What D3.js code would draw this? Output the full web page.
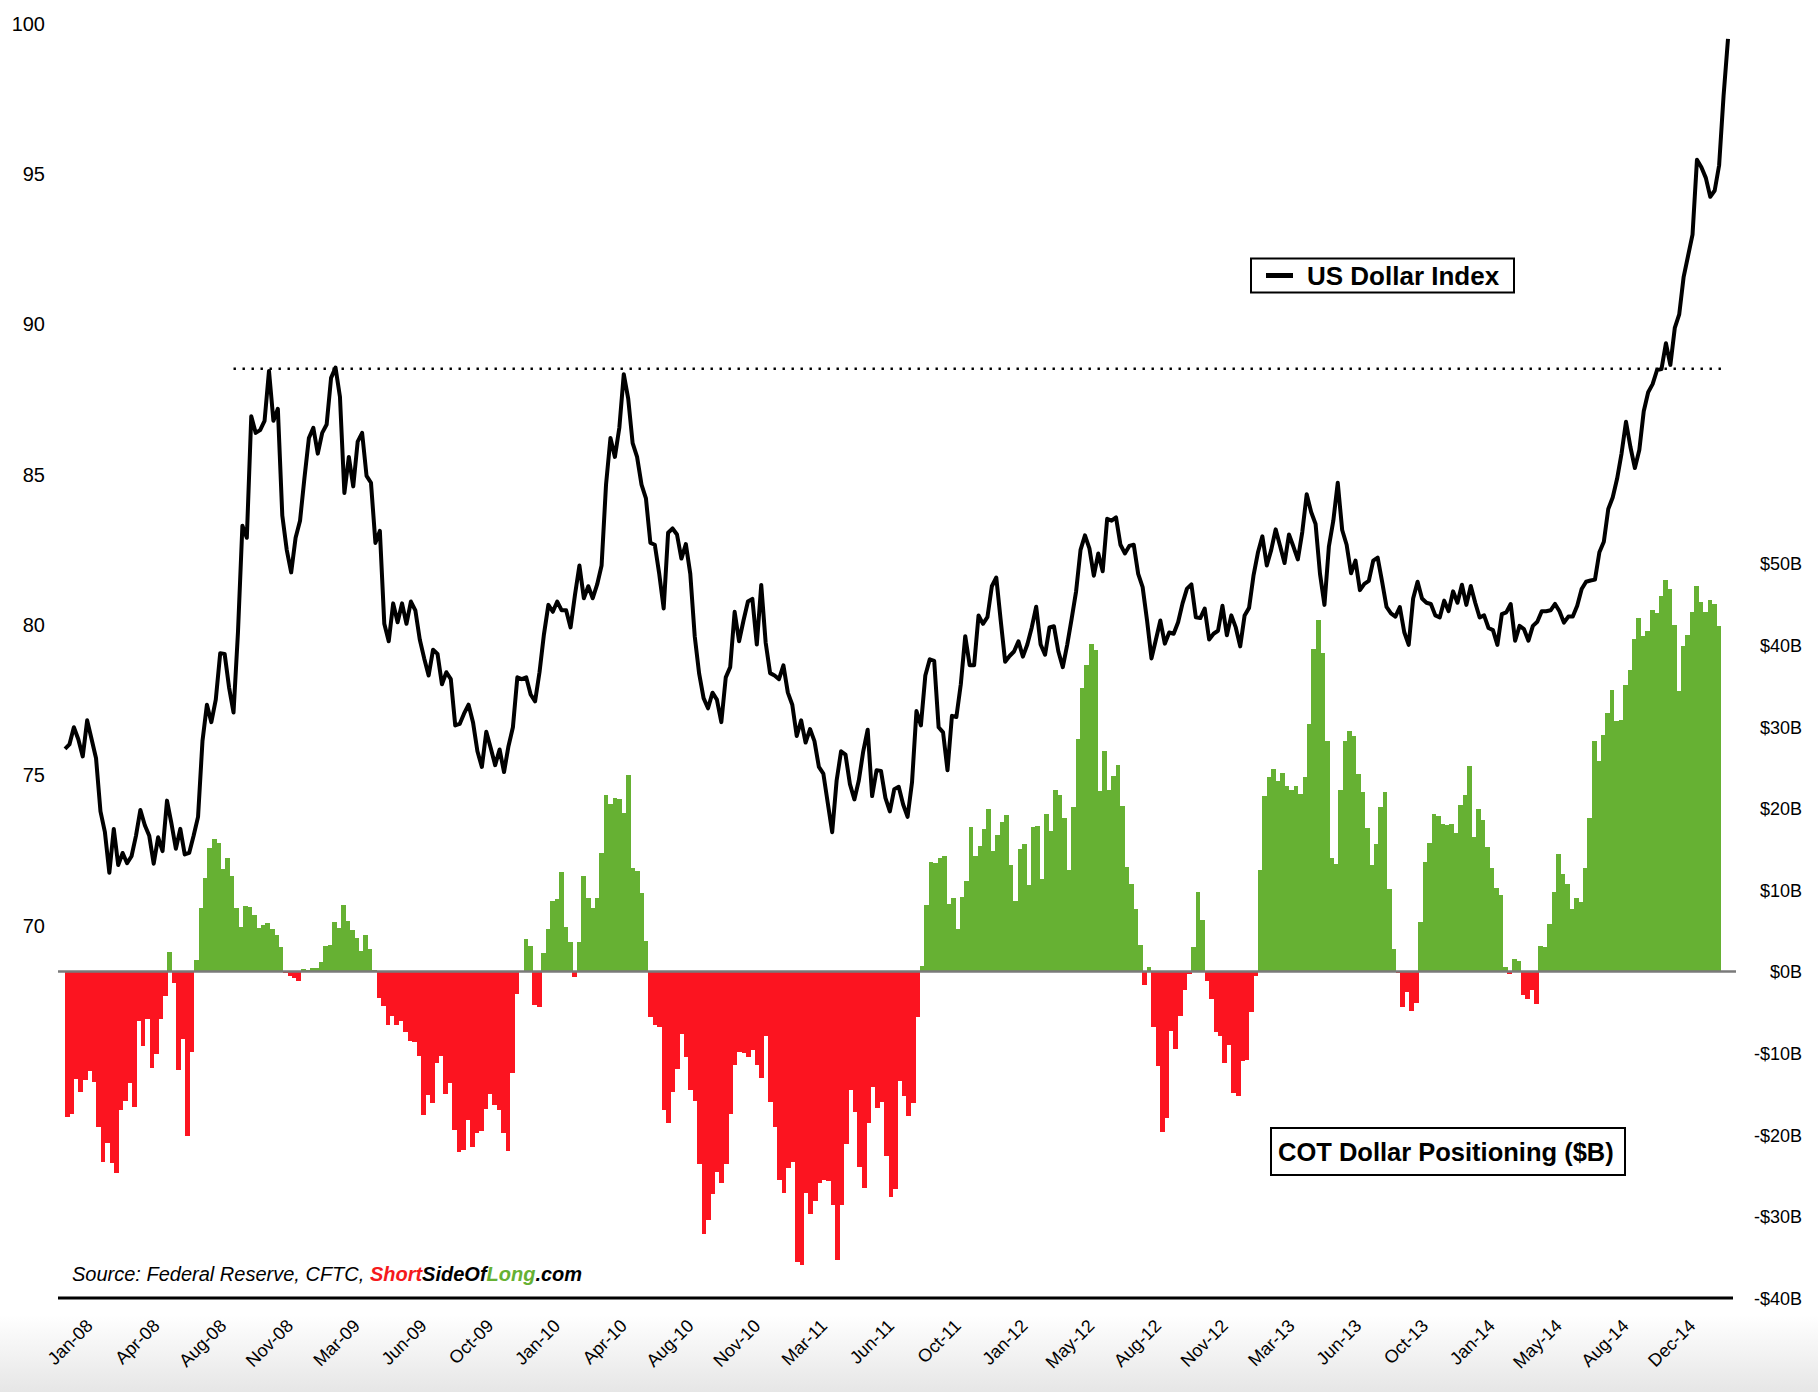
<!DOCTYPE html>
<html>
<head>
<meta charset="utf-8">
<script src="https://cdn.jsdelivr.net/npm/d3@7"></script>
<style>
  body { margin: 0; background: #fff; }
  svg { display: block; font-family: "Liberation Sans", Arial, sans-serif; }
</style>
</head>
<body>
<div id="chart"></div>
<script>
// weekly US Dollar Index, Jan-08 .. Mar-15
const dollarIndex = [
  75.86, 76.01, 76.58, 76.18, 75.61, 76.81, 76.18, 75.55, 73.78, 73.09,
  71.74, 73.20, 72.00, 72.40, 72.06, 72.29, 72.97, 73.83, 73.32, 72.97,
  72.04, 72.92, 72.46, 74.14, 73.38, 72.54, 73.20, 72.35, 72.40, 72.97,
  73.60, 76.12, 77.33, 76.75, 77.50, 79.04, 79.02, 77.90, 77.07, 79.73,
  83.28, 82.88, 86.92, 86.37, 86.46, 86.77, 88.43, 86.77, 87.17, 83.62,
  82.48, 81.73, 82.88, 83.45, 84.88, 86.20, 86.54, 85.68, 86.37, 86.65,
  88.20, 88.54, 87.57, 84.37, 85.57, 84.59, 86.08, 86.37, 84.94, 84.71,
  82.71, 83.11, 80.02, 79.44, 80.70, 80.07, 80.70, 80.02, 80.76, 80.47,
  79.50, 78.87, 78.30, 79.16, 79.02, 78.01, 78.41, 78.18, 76.64, 76.69,
  77.04, 77.33, 76.75, 75.78, 75.26, 76.43, 75.89, 75.32, 75.84, 75.09,
  75.95, 76.58, 78.24, 78.18, 78.24, 77.67, 77.44, 78.41, 79.67, 80.65,
  80.42, 80.76, 80.47, 80.47, 79.90, 80.99, 81.96, 80.87, 81.27, 80.87,
  81.33, 81.96, 84.65, 86.20, 85.57, 86.54, 88.32, 87.51, 86.03, 85.57,
  84.65, 84.19, 82.71, 82.65, 81.68, 80.53, 83.05, 83.19, 82.99, 82.19,
  82.67, 81.68, 79.61, 78.36, 77.55, 77.21, 77.73, 77.50, 76.75, 78.24,
  78.58, 80.42, 79.44, 80.13, 80.76, 80.85, 79.33, 81.31, 79.39, 78.38,
  78.30, 78.18, 78.64, 77.73, 77.33, 76.29, 76.81, 76.07, 76.52, 76.12,
  75.26, 75.04, 74.06, 73.09, 74.81, 75.78, 75.67, 74.69, 74.18, 74.81,
  75.78, 76.50, 74.29, 75.15, 75.13, 74.23, 73.78, 74.52, 74.60, 74.01,
  73.60, 74.75, 77.12, 76.64, 78.30, 78.84, 78.79, 76.58, 76.41, 75.15,
  76.96, 76.92, 78.01, 79.61, 78.64, 78.64, 80.30, 80.02, 80.24, 81.27,
  81.56, 80.13, 78.76, 78.95, 79.10, 79.44, 78.93, 79.33, 79.90, 80.59,
  79.33, 78.99, 79.90, 79.94, 79.10, 78.58, 79.33, 80.19, 81.10, 82.48,
  82.96, 82.53, 81.62, 82.36, 81.77, 83.51, 83.45, 83.56, 82.65, 82.36,
  82.61, 82.65, 81.68, 81.24, 80.13, 78.87, 79.50, 80.13, 79.36, 79.73,
  79.69, 80.07, 80.70, 81.19, 81.33, 80.24, 80.21, 80.53, 79.50, 79.69,
  79.79, 80.62, 79.64, 80.30, 79.90, 79.27, 80.30, 80.55, 81.62, 82.39,
  82.93, 81.96, 82.48, 83.16, 82.61, 82.04, 82.99, 82.59, 82.16, 83.07,
  84.33, 83.74, 83.34, 81.68, 80.65, 82.59, 83.45, 84.71, 83.14, 82.65,
  81.70, 82.12, 81.14, 81.35, 81.45, 82.12, 82.22, 81.42, 80.58, 80.37,
  80.26, 80.58, 79.74, 79.32, 80.86, 81.42, 80.86, 80.72, 80.68, 80.30,
  80.23, 80.79, 80.44, 81.10, 80.72, 81.32, 80.65, 81.28, 80.72, 80.23,
  80.30, 79.88, 79.81, 79.32, 80.34, 80.40, 80.68, 79.46, 79.95, 79.84,
  79.46, 79.95, 80.09, 80.44, 80.44, 80.47, 80.68, 80.44, 80.06, 80.26,
  80.26, 80.62, 81.18, 81.42, 81.46, 81.49, 82.40, 82.75, 83.84, 84.22,
  84.85, 85.69, 86.74, 85.90, 85.20, 85.80, 87.09, 87.72, 87.99, 88.46,
  88.49, 89.35, 88.63, 89.86, 90.31, 91.56, 92.26, 92.96, 95.45, 95.20,
  94.85, 94.22, 94.43, 95.27, 97.58, 99.47
];

// weekly COT net dollar positioning, $B
const cotPositioning = [
  -17.85, -17.5, -13.2, -14.8, -13.3, -12.2, -13.5, -19.1, -23.3, -21.0,
  -23.4, -24.7, -17.0, -15.8, -13.7, -16.6, -6.1, -9.1, -5.8, -11.8,
  -10.1, -5.8, -3.0, 2.4, -1.4, -12.1, -8.2, -20.2, -9.9, 1.4,
  7.8, 11.5, 15.1, 16.3, 15.7, 12.6, 13.9, 11.7, 7.8, 5.5,
  8.0, 7.9, 6.9, 5.4, 5.7, 6.0, 5.2, 4.5, 3.0, -0.2,
  -0.6, -0.8, -1.1, 0.3, 0.2, 0.4, 0.45, 1.2, 3.1, 3.3,
  6.1, 5.4, 8.2, 6.2, 5.1, 4.1, 2.5, 4.5, 2.8, 0.2,
  -3.2, -4.2, -6.5, -5.4, -6.5, -6.1, -7.4, -8.5, -8.6, -10.4,
  -17.6, -15.1, -16.1, -11.2, -10.3, -15.0, -13.6, -19.4, -22.1, -21.9,
  -18.2, -21.5, -19.8, -19.5, -16.8, -15.0, -16.4, -16.9, -19.8, -22.0,
  -12.4, -2.8, 0, 4.0, 3.1, -4.1, -4.3, 2.3, 5.2, 8.7,
  8.9, 12.2, 5.5, 3.6, -0.65, 3.6, 11.7, 9.0, 7.8, 9.0,
  14.5, 21.7, 20.6, 21.3, 21.2, 19.4, 24.1, 12.7, 12.3, 9.6,
  3.7, -5.6, -6.5, -6.8, -16.9, -18.6, -14.8, -11.9, -7.7, -10.5,
  -14.5, -15.8, -23.6, -32.1, -30.5, -27.3, -24.6, -25.9, -23.6, -17.4,
  -11.4, -9.8, -10.0, -10.5, -9.6, -11.5, -13.1, -7.9, -16.0, -19.0,
  -25.6, -27.1, -24.1, -23.3, -35.6, -35.9, -27.1, -29.7, -28.1, -25.9,
  -25.6, -25.7, -28.6, -35.3, -28.6, -21.1, -14.5, -17.2, -24.0, -26.5,
  -18.5, -14.2, -16.7, -16.0, -22.6, -27.6, -26.6, -13.4, -15.2, -17.7,
  -16.1, -5.6, 0.7, 8.2, 13.4, 13.3, 13.9, 14.2, 8.3, 9.0,
  5.2, 9.2, 11.1, 17.7, 14.2, 15.4, 17.5, 19.9, 14.8, 16.7,
  18.3, 19.2, 13.1, 8.7, 15.0, 15.6, 10.6, 17.7, 17.9, 11.4,
  19.3, 17.2, 22.3, 21.6, 18.8, 12.4, 20.2, 28.5, 34.7, 37.6,
  40.2, 39.4, 22.1, 27.0, 22.2, 24.0, 25.3, 20.3, 12.8, 10.7,
  7.7, 3.2, -1.6, 0.6, -6.8, -11.6, -19.6, -18.0, -7.3, -9.5,
  -5.4, -2.3, -0.3, 3.0, 9.7, 6.3, -1.2, -3.3, -7.4, -7.9,
  -11.2, -9.0, -14.9, -15.3, -10.9, -10.8, -4.9, -0.6, 12.4, 21.5,
  23.9, 24.8, 23.4, 24.3, 22.8, 22.2, 22.7, 21.8, 23.9, 30.4,
  39.5, 43.1, 39.1, 28.3, 13.9, 13.2, 22.2, 28.3, 29.5, 28.9,
  24.2, 22.0, 17.6, 13.1, 15.6, 20.2, 22.0, 10.1, 2.8, -0.2,
  -4.3, -2.5, -4.8, -3.8, 6.1, 13.4, 15.8, 19.3, 19.1, 18.1,
  18.0, 18.1, 17.0, 20.4, 21.6, 25.2, 16.5, 19.9, 18.6, 15.3,
  12.7, 10.3, 9.4, 0.6, -0.3, 1.6, 1.3, -2.9, -3.3, -2.3,
  -4.0, 3.1, 3.0, 5.8, 9.7, 14.4, 11.9, 10.7, 7.7, 9.0,
  8.5, 12.7, 18.8, 28.2, 25.8, 29.0, 31.7, 34.5, 30.7, 30.8,
  35.1, 37.0, 40.8, 43.3, 41.1, 41.7, 44.3, 43.9, 46.0, 48.0,
  46.9, 42.5, 34.4, 39.9, 41.3, 44.1, 47.3, 45.3, 44.1, 45.5,
  45.1, 42.4
];

const xTickLabels = [
  "Jan-08", "Apr-08", "Aug-08", "Nov-08", "Mar-09", "Jun-09", "Oct-09",
  "Jan-10", "Apr-10", "Aug-10", "Nov-10", "Mar-11", "Jun-11", "Oct-11",
  "Jan-12", "May-12", "Aug-12", "Nov-12", "Mar-13", "Jun-13", "Oct-13",
  "Jan-14", "May-14", "Aug-14", "Dec-14"
];
const xTickStart = 6, xTickEvery = 15; // a label every 15 weeks

const indexTicks = [70, 75, 80, 85, 90, 95, 100];
const cotTicks = [-40, -30, -20, -10, 0, 10, 20, 30, 40, 50];

// 2008 highs, drawn as a dotted level
const resistanceLevel = 88.5;
const resistanceSpan = [38, 374];

const width = 1818, height = 1392;
const plotTop = 23, plotBottom = 1298;
const green = "#66b133", red = "#fc1420";

const svg = d3.select("#chart").append("svg")
  .attr("width", width)
  .attr("height", height);

// light grey fade at the bottom
const grad = svg.append("defs").append("linearGradient")
  .attr("id", "fade").attr("x1", 0).attr("y1", 0).attr("x2", 0).attr("y2", 1);
grad.append("stop").attr("offset", "0%").attr("stop-color", "#ffffff");
grad.append("stop").attr("offset", "100%").attr("stop-color", "#e6e6e6");
svg.append("rect").attr("width", width).attr("height", height).attr("fill", "#fff");
svg.append("rect").attr("x", 0).attr("y", 1315).attr("width", width).attr("height", height - 1315)
  .attr("fill", "url(#fade)");

// scales
const xLine = d3.scalePoint().domain(d3.range(dollarIndex.length)).range([65, 1728]);
const xBar = d3.scaleBand().domain(d3.range(cotPositioning.length)).range([65, 1721]).padding(0);
const yIndex = d3.scaleLinear().domain([57.6, 100]).range([plotBottom, plotTop]);
const yCot = d3.scaleLinear().domain([-40, 116.25]).range([plotBottom, plotTop]);

// COT bars
svg.append("g")
  .attr("shape-rendering", "crispEdges")
  .selectAll("rect")
  .data(cotPositioning)
  .enter().append("rect")
  .attr("x", (d, i) => xBar(i))
  .attr("width", xBar.bandwidth() + 0.3)
  .attr("y", d => yCot(Math.max(0, d)))
  .attr("height", d => Math.abs(yCot(d) - yCot(0)))
  .attr("fill", d => (d >= 0 ? green : red));

// zero line
svg.append("line")
  .attr("x1", 58).attr("x2", 1736)
  .attr("y1", yCot(0)).attr("y2", yCot(0))
  .attr("stroke", "#7a7a7a").attr("stroke-width", 2.5);

// dotted resistance
svg.append("line")
  .attr("x1", xLine(resistanceSpan[0])).attr("x2", xLine(resistanceSpan[1]))
  .attr("y1", yIndex(resistanceLevel)).attr("y2", yIndex(resistanceLevel))
  .attr("stroke", "#000").attr("stroke-width", 2.4)
  .attr("stroke-dasharray", "2.4 6.6");

// dollar index line
const line = d3.line()
  .x((d, i) => xLine(i))
  .y(d => yIndex(d));

svg.append("path")
  .datum(dollarIndex)
  .attr("d", line)
  .attr("fill", "none")
  .attr("stroke", "#000")
  .attr("stroke-width", 4)
  .attr("stroke-linejoin", "round");

// bottom axis line
svg.append("line")
  .attr("x1", 58).attr("x2", 1733)
  .attr("y1", plotBottom).attr("y2", plotBottom)
  .attr("stroke", "#000").attr("stroke-width", 3);

// left axis
const leftAxis = svg.append("g")
  .attr("transform", "translate(45,0)")
  .call(d3.axisLeft(yIndex).tickValues(indexTicks).tickSize(0).tickPadding(0));
leftAxis.select(".domain").remove();
leftAxis.selectAll("text")
  .attr("font-family", "Liberation Sans, Arial, sans-serif")
  .attr("font-size", 20).attr("fill", "#000").attr("dy", "0.35em");

// right axis
const cotFormat = v => (v < 0 ? "-$" + Math.abs(v) + "B" : "$" + v + "B");
const rightAxis = svg.append("g")
  .attr("transform", "translate(1802,0)")
  .call(d3.axisLeft(yCot).tickValues(cotTicks).tickFormat(cotFormat).tickSize(0).tickPadding(0));
rightAxis.select(".domain").remove();
rightAxis.selectAll("text")
  .attr("font-family", "Liberation Sans, Arial, sans-serif")
  .attr("font-size", 18).attr("fill", "#000").attr("dy", "0.35em");

// x labels, rotated
const tickIdx = xTickLabels.map((t, k) => xTickStart + k * xTickEvery);
const bottomAxis = svg.append("g")
  .attr("transform", `translate(0,${plotBottom})`)
  .call(d3.axisBottom(xBar).tickValues(tickIdx)
    .tickFormat((d, k) => xTickLabels[k]).tickSize(0));
bottomAxis.select(".domain").remove();
bottomAxis.selectAll("text")
  .attr("font-family", "Liberation Sans, Arial, sans-serif")
  .attr("font-size", 18).attr("fill", "#000")
  .attr("x", 0).attr("y", 0).attr("dy", 0)
  .attr("transform", "translate(0,29) rotate(-45)")
  .style("text-anchor", "end");

// legend: US Dollar Index
const leg1 = svg.append("g");
leg1.append("rect")
  .attr("x", 1251).attr("y", 258.5).attr("width", 263).attr("height", 34)
  .attr("fill", "#fff").attr("stroke", "#000").attr("stroke-width", 2);
leg1.append("line")
  .attr("x1", 1266).attr("x2", 1293).attr("y1", 275.5).attr("y2", 275.5)
  .attr("stroke", "#000").attr("stroke-width", 5);
leg1.append("text")
  .attr("x", 1307).attr("y", 284.5)
  .attr("font-size", 26).attr("font-weight", "bold")
  .text("US Dollar Index");

// legend: COT
const leg2 = svg.append("g");
leg2.append("rect")
  .attr("x", 1271).attr("y", 1128).attr("width", 354).attr("height", 47)
  .attr("fill", "#fff").attr("stroke", "#000").attr("stroke-width", 2);
leg2.append("text")
  .attr("x", 1278).attr("y", 1160.5)
  .attr("font-size", 25.5).attr("font-weight", "bold")
  .text("COT Dollar Positioning ($B)");

// source
const src = svg.append("text")
  .attr("x", 72).attr("y", 1281)
  .attr("font-size", 20).attr("font-style", "italic");
src.append("tspan").text("Source: Federal Reserve, CFTC, ");
src.append("tspan").attr("font-weight", "bold").attr("fill", "#f5191c").text("Short");
src.append("tspan").attr("font-weight", "bold").text("SideOf");
src.append("tspan").attr("font-weight", "bold").attr("fill", "#66b133").text("Long");
src.append("tspan").attr("font-weight", "bold").text(".com");
</script>
</body>
</html>
